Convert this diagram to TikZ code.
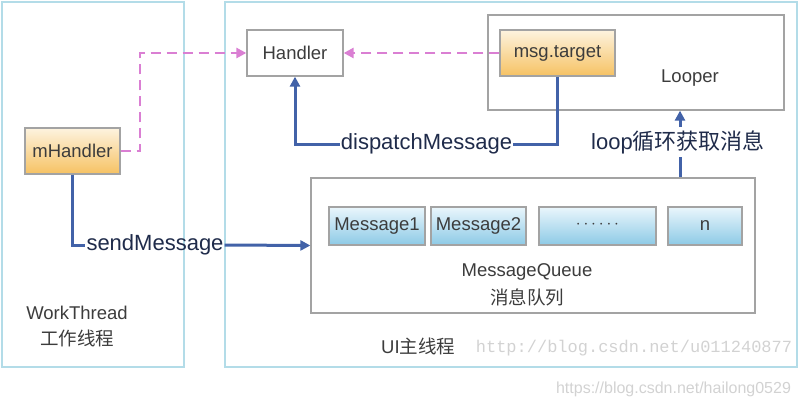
\documentclass[tikz,border=0pt]{standalone}
\usepackage{fontspec}
\setmainfont{Liberation Sans}
\newfontfamily\cjk{Noto Sans CJK SC}
\newfontfamily\wmmono{Liberation Mono}
\usetikzlibrary{arrows.meta}
\definecolor{panelc}{HTML}{B3DCE8}
\definecolor{boxc}{HTML}{A3A3A3}
\definecolor{boxtxt}{HTML}{3C3C3C}
\definecolor{lbltxt}{HTML}{1F2B4A}
\definecolor{bluec}{HTML}{4262A8}
\definecolor{pinkc}{HTML}{DA7FD3}
\definecolor{orTop}{HTML}{FDF3DF}
\definecolor{orBot}{HTML}{F6C263}
\definecolor{buTop}{HTML}{EAF6FC}
\definecolor{buBot}{HTML}{8DCAE6}
\definecolor{wmc}{HTML}{D2D2D2}
\begin{document}
\begin{tikzpicture}[x=1pt,y=-1pt,
  panel/.style={draw=panelc, line width=1.6pt, inner sep=0pt},
  boxfont/.style={font=\fontsize{18.5}{22}\selectfont, text=boxtxt},
  plainbox/.style={boxfont, draw=boxc, line width=1.3pt, fill=white, inner sep=0pt},
  orbox/.style={plainbox, top color=orTop, bottom color=orBot},
  bubox/.style={plainbox, top color=buTop, bottom color=buBot},
  txt/.style={boxfont, inner sep=0pt},
  lbl/.style={font=\fontsize{22}{26}\selectfont, text=lbltxt, inner xsep=1pt, inner ysep=3pt},
  bline/.style={draw=bluec, line width=3pt},
  barrow/.style={bline, -{Triangle[length=10pt,width=10pt]}},
  parrow/.style={draw=pinkc, line width=2.8pt, dash pattern=on 10pt off 6pt, -{Triangle[length=10pt,width=10pt]}}
]
\useasboundingbox (0,0) rectangle (800,407);
% panels
\node[panel, minimum width=182pt, minimum height=365pt] (work) at (93,184.5) {};
\node[panel, minimum width=572pt, minimum height=365pt] (ui) at (511,184.5) {};
% boxes
\node[plainbox, minimum width=96pt, minimum height=46pt] (handler) at (295,53) {Handler};
\node[plainbox, minimum width=296pt, minimum height=95pt] (looper) at (636,62.5) {};
\node[txt] (looperlbl) at (690,78) {Looper};
\node[orbox, minimum width=115pt, minimum height=46pt] (target) at (557.5,53) {msg.target};
\node[orbox, minimum width=95pt, minimum height=46pt] (mh) at (72.5,151) {mHandler};
\node[plainbox, minimum width=444pt, minimum height=135pt] (queue) at (533,245.5) {};
\node[bubox, minimum width=96pt, minimum height=38pt] (m1) at (377,226) {Message1};
\node[bubox, minimum width=95pt, minimum height=38pt] (m2) at (478.5,226) {Message2};
\node[bubox, minimum width=117pt, minimum height=38pt] (mdots) at (597.5,226) {\raisebox{2pt}{$\cdots\cdots$}};
\node[bubox, minimum width=74pt, minimum height=38pt] (mn) at (705,226) {n};
\node[txt] (qlbl) at (527,272) {MessageQueue};
\node[txt] (qlblcn) at (527,297) {\cjk 消息队列};
\node[txt] (wlbl) at (77,313) {WorkThread};
\node[txt] (wlblcn) at (77,338) {\cjk 工作线程};
\node[txt, anchor=west] (uilbl) at (381,346) {UI{\cjk 主线程}};
% labels
\node[lbl] (disp) at (426.5,144) {dispatchMessage};
\node[lbl] (send) at (155,245) {sendMessage};
\node[lbl] (loop) at (678,142) {loop{\cjk 循环获取消息}};
% watermarks
\node[font=\wmmono\fontsize{17}{20}\selectfont, text=wmc, inner sep=0pt] (wm1) at (634,348) {http://blog.csdn.net/u011240877};
\node[font=\fontsize{16}{19}\selectfont, text=wmc, inner sep=0pt] (wm2) at (673.5,389) {https://blog.csdn.net/hailong0529};
% connectors
\coordinate (lx) at (680,0);
\coordinate (pc) at (140,151);
\draw[parrow] (mh.east) -- (pc) |- (handler.west);
\draw[parrow] (target.west) -- (handler.east);
\draw[bline] (target.south) |- (disp.east);
\draw[barrow] (disp.west) -| (handler.south);
\draw[bline] (mh.south) |- (send.west);
\draw[barrow] (send.east) -- (queue.west);
\draw[bline] (queue.north -| lx) -- (loop.south -| lx);
\draw[barrow] (loop.north -| lx) -- (looper.south -| lx);
\end{tikzpicture}
\end{document}
